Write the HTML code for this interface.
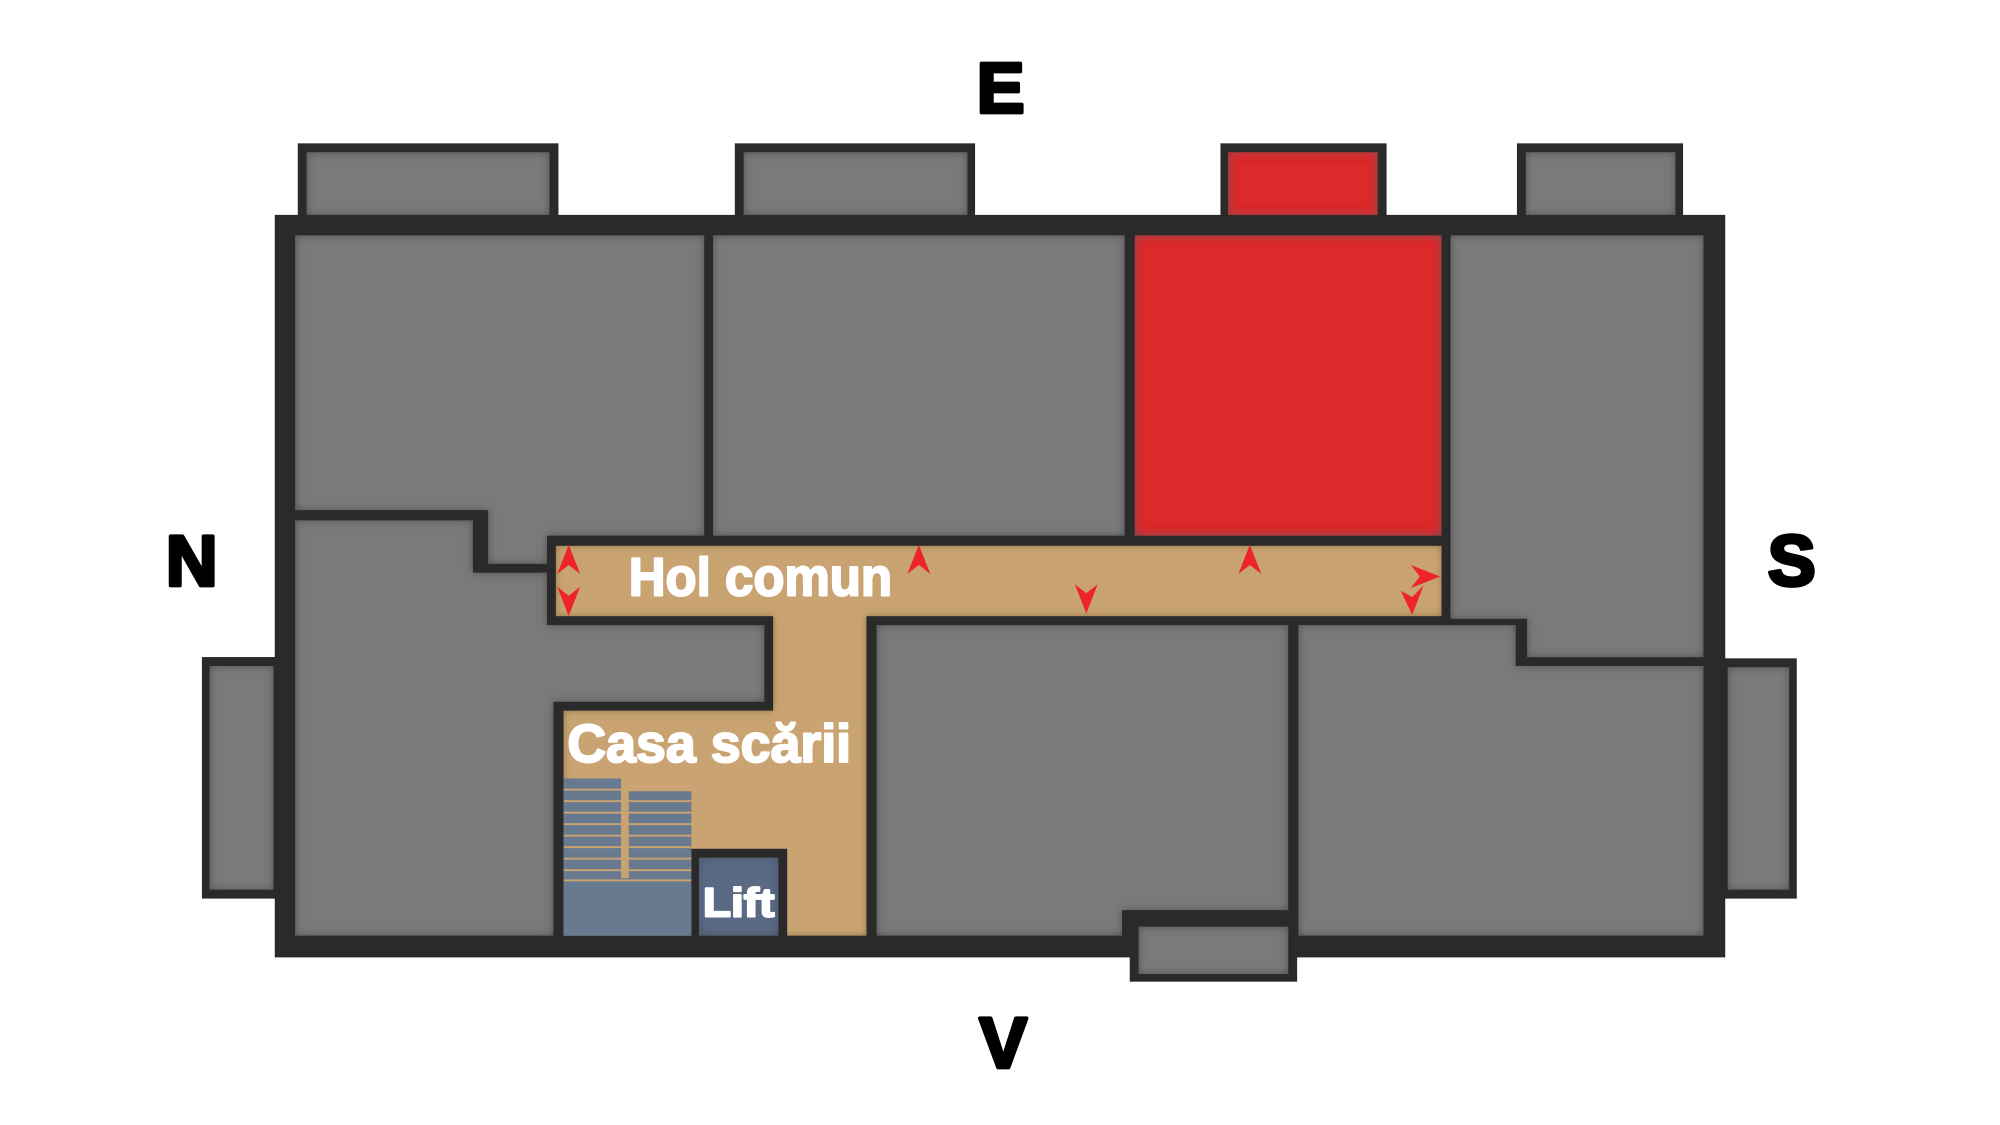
<!DOCTYPE html>
<html><head><meta charset="utf-8"><style>
html,body{margin:0;padding:0;background:#fff;width:2000px;height:1125px;overflow:hidden}
svg{display:block}
text{font-family:"Liberation Sans",sans-serif;font-weight:bold}
</style></head><body>
<svg width="2000" height="1125" viewBox="2 1 1565 880" xmlns="http://www.w3.org/2000/svg">
<defs>
<filter id="in" x="-5%" y="-5%" width="110%" height="110%">
<feFlood flood-color="#4a4a50" result="f"/>
<feComposite in="f" in2="SourceAlpha" operator="out" result="o"/>
<feGaussianBlur in="o" stdDeviation="3.5" result="b"/>
<feComposite in="b" in2="SourceAlpha" operator="in" result="s"/>
<feMerge><feMergeNode in="SourceGraphic"/><feMergeNode in="s"/></feMerge>
</filter>
<filter id="inr" x="-5%" y="-5%" width="110%" height="110%">
<feFlood flood-color="#8a6a40" result="f"/>
<feComposite in="f" in2="SourceAlpha" operator="out" result="o"/>
<feGaussianBlur in="o" stdDeviation="3" result="b"/>
<feComposite in="b" in2="SourceAlpha" operator="in" result="s"/>
<feMerge><feMergeNode in="SourceGraphic"/><feMergeNode in="s"/></feMerge>
</filter>
</defs>
<g fill="#2a2a2a">
<rect x="217" y="169" width="1135" height="581"/>
<rect x="235" y="113" width="204" height="60"/>
<rect x="577" y="113" width="188" height="60"/>
<rect x="957" y="113" width="130" height="60"/>
<rect x="1189" y="113" width="130" height="60"/>
<rect x="160" y="515" width="60" height="189"/>
<rect x="1348" y="516" width="60" height="188"/>
<rect x="886" y="713" width="131" height="56"/>
</g>
<g fill="#7a7a7c" filter="url(#in)">
<rect x="242" y="120" width="190" height="49"/>
<rect x="584" y="120" width="175" height="49"/>
<rect x="1196" y="120" width="117" height="49"/>
<rect x="166" y="522" width="50" height="175"/>
<rect x="1354" y="523" width="48" height="174"/>
<rect x="893" y="726" width="117" height="37"/>
</g>
<rect x="963" y="120" width="117" height="49" fill="#dc2a2b" filter="url(#in)"/>
<g fill="#7a7a7a" filter="url(#in)">
<polygon points="233,185 553,185 553,420 430,420 430,442 384,442 384,400 233,400"/>
<rect x="560" y="185" width="322" height="235"/>
<polygon points="1137,185 1335,185 1335,515 1197,515 1197,485 1137,485"/>
<polygon points="233,408 372,408 372,449 430,449 430,490 600,490 600,550 435,550 435,733 233,733"/>
<polygon points="688,490 1010,490 1010,713 880,713 880,733 688,733"/>
<polygon points="1018,490 1188,490 1188,522 1335,522 1335,733 1018,733"/>
</g>
<rect x="890" y="185" width="240" height="235" fill="#dc2a2b" filter="url(#in)"/>
<polygon fill="#c9a472" filter="url(#inr)" points="437,428 1130,428 1130,483 680,483 680,733 443,733 443,557 607,557 607,483 437,483"/>
<g fill="#687a8f">
<rect x="443" y="610" width="45" height="123"/>
<rect x="494" y="620" width="49" height="113"/>
<rect x="486" y="688" width="10" height="45"/>
</g>
<g fill="#c9a472">
<rect x="443" y="618" width="45" height="1.5"/><rect x="443" y="627" width="100" height="1.5"/>
<rect x="443" y="636" width="100" height="1.5"/><rect x="443" y="645" width="100" height="1.5"/>
<rect x="443" y="654" width="100" height="1.5"/><rect x="443" y="663" width="100" height="1.5"/>
<rect x="443" y="672" width="100" height="1.5"/><rect x="443" y="681" width="100" height="1.5"/>
<rect x="443" y="689" width="100" height="1.5"/>
</g>
<rect x="543" y="665" width="75" height="70" fill="#2a2a2a"/>
<rect x="549" y="672" width="62" height="61" fill="#5a6b85" filter="url(#in)"/>
<g fill="#ee2528">
<polygon points="447,427 456,450 447,443 438,450"/>
<polygon points="447,483 456,460 447,467 438,460"/>
<polygon points="721,427 730,450 721,443 712,450"/>
<polygon points="852,481 861,458 852,465 843,458"/>
<polygon points="980,427 989,450 980,443 971,450"/>
<polygon points="1129,452 1106,443 1113,452 1106,461"/>
<polygon points="1107,482 1098,463 1107,468 1116,459"/>
</g>
<g fill="#fff" stroke="#fff" stroke-width="1.6" stroke-linejoin="round">
<text x="494" y="467" font-size="42" textLength="206" lengthAdjust="spacingAndGlyphs">Hol comun</text>
<text x="446" y="597" font-size="42" textLength="222" lengthAdjust="spacingAndGlyphs">Casa scării</text>
<text x="552" y="718" font-size="32" textLength="56" lengthAdjust="spacingAndGlyphs">Lift</text>
</g>
<g fill="#000" stroke="#000" stroke-width="3" stroke-linejoin="round" font-size="56" text-anchor="middle">
<text x="785" y="89">E</text>
<text x="152" y="459">N</text>
<text x="1404" y="459">S</text>
<text x="787" y="836">V</text>
</g>
</svg>
</body></html>
